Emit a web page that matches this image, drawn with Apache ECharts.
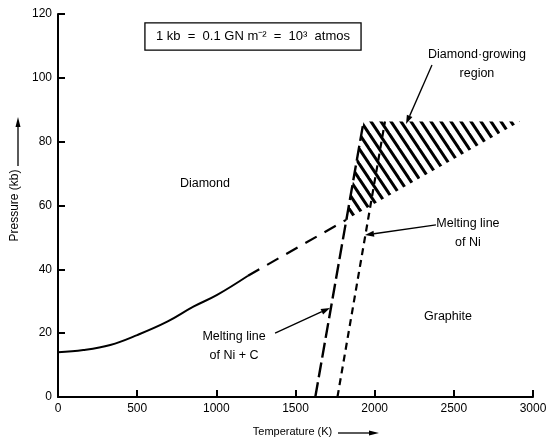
<!DOCTYPE html>
<html><head><meta charset="utf-8">
<script src="https://cdn.jsdelivr.net/npm/echarts@6/dist/echarts.min.js"></script>
<style>html,body{margin:0;padding:0;background:#fff}#c{width:552px;height:443px}</style>
</head><body><div id="c"></div>
<script>
// ---- data (temperature K, pressure kb) ----
const xMin = 0, xMax = 3000, xStep = 500;
const yMin = 0, yMax = 120, yStep = 20;
const phaseLineT = [0, 160, 330, 500, 690, 855, 1005, 1200];
const phaseLineP = [14, 14.7, 16.3, 19.4, 23.6, 28.3, 32, 38];
const phaseExtT = [1200, 1820];
const phaseExtP = [38, 55.5];
const meltNiCT = [1625, 1930];
const meltNiCP = [0, 86.3];
const meltNiT = [1765, 2065];
const meltNiP = [0, 86.3];
const growT = [1820, 1930, 2920];
const growP = [55.5, 86.3, 86.3];
const labelTexts = ['Diamond', 'Diamond·growing\nregion', 'Melting line\nof Ni', 'Graphite', 'Melting line\nof Ni + C'];
const labelT = [928, 2646, 2589, 2463, 1112];
const labelP = [67, 104.2, 51.5, 25.1, 16];
const arrowFromT = [2362, 2387, 1371];
const arrowFromP = [104, 53.9, 20.0];
const arrowToT = [2198, 1939, 1718];
const arrowToP = [85.5, 50.75, 27.9];
const unitText = '1 kb  =  0.1 GN m⁻²  =  10³  atmos';
const unitBoxT = [549, 1914];
const unitBoxP = [108.7, 117.2];

const FONT = '"Liberation Sans", Arial, Helvetica, sans-serif';
const zip = (a, b) => a.map((v, i) => [v, b[i]]);

// hatch pattern
const pc = document.createElement('canvas'); pc.width = 10; pc.height = 15;
const g = pc.getContext('2d'); g.strokeStyle = '#000'; g.lineWidth = 3;
for (const ox of [-20, -10, 0, 10, 20]) { g.beginPath(); g.moveTo(ox - 10, -15); g.lineTo(ox + 20, 30); g.stroke(); }

const chart = echarts.init(document.getElementById('c'), null, {renderer: 'canvas'});
const axisCommon = {
  axisLine: {lineStyle: {color: '#000', width: 2}},
  axisTick: {inside: true, length: 7, lineStyle: {color: '#000', width: 2}},
  splitLine: {show: false},
  axisLabel: {color: '#000', fontSize: 12, fontFamily: FONT, margin: 6, formatter: v => String(v)},
  nameTextStyle: {color: '#000', fontSize: 12, fontFamily: FONT}
};
chart.setOption({
  animation: false,
  backgroundColor: '#fff',
  grid: {left: 58, right: 19, top: 14, bottom: 46},
  xAxis: Object.assign({type: 'value', min: xMin, max: xMax, interval: xStep,
    name: 'Temperature (K)', nameLocation: 'middle', nameGap: 29}, axisCommon,
    {nameTextStyle: {color: '#000', fontSize: 11, fontFamily: FONT, padding: [0, 6, 0, 0]}}),
  yAxis: Object.assign({type: 'value', min: yMin, max: yMax, interval: yStep,
    name: 'Pressure (kb)', nameLocation: 'middle', nameRotate: 90, nameGap: 34}, axisCommon),
  series: [
    {type: 'custom', z: 1, data: [[growT[0], growP[0]]], encode: {x: 0, y: 1},
      renderItem: function (params, api) {
        const pts = growT.map((t, i) => api.coord([t, growP[i]]));
        return {type: 'polygon', shape: {points: pts}, style: {fill: {image: pc, repeat: 'repeat'}, stroke: null}};
      }},
    {type: 'line', z: 3, data: zip(phaseLineT, phaseLineP), smooth: 0.4, symbol: 'none',
      lineStyle: {color: '#000', width: 2}},
    {type: 'line', z: 3, data: zip(phaseExtT, phaseExtP), symbol: 'none',
      lineStyle: {color: '#000', width: 2.2, type: [13, 9]}},
    {type: 'line', z: 3, data: zip(meltNiCT, meltNiCP), symbol: 'none',
      lineStyle: {color: '#000', width: 2.4, type: [15, 5]}},
    {type: 'line', z: 3, data: zip(meltNiT, meltNiP), symbol: 'none',
      lineStyle: {color: '#000', width: 2.2, type: [7, 5]}},
    {type: 'custom', z: 4, data: arrowFromT.map((t, i) => [t, arrowFromP[i], arrowToT[i], arrowToP[i]]),
      encode: {x: [0, 2], y: [1, 3]},
      renderItem: function (params, api) {
        const a = api.coord([api.value(0), api.value(1)]);
        const b = api.coord([api.value(2), api.value(3)]);
        const ang = Math.atan2(b[1] - a[1], b[0] - a[0]);
        const L = 9, W = 3;
        const bx = b[0] - L * Math.cos(ang), by = b[1] - L * Math.sin(ang);
        return {type: 'group', children: [
          {type: 'line', shape: {x1: a[0], y1: a[1], x2: bx, y2: by}, style: {stroke: '#000', lineWidth: 1.3}},
          {type: 'polygon', shape: {points: [b, [bx - W * Math.sin(ang), by + W * Math.cos(ang)], [bx + W * Math.sin(ang), by - W * Math.cos(ang)]]},
            style: {fill: '#000'}}
        ]};
      }}
  ]
});

const els = [];
labelTexts.forEach((txt, i) => {
  const p = chart.convertToPixel({gridIndex: 0}, [labelT[i], labelP[i]]);
  els.push({type: 'text', x: p[0], y: p[1], z: 10,
    style: {text: txt, font: '12.5px ' + FONT, fill: '#000', align: 'center', verticalAlign: 'middle',
      textAlign: 'center', textVerticalAlign: 'middle', lineHeight: 19}});
});
const b1 = chart.convertToPixel({gridIndex: 0}, [unitBoxT[0], unitBoxP[1]]);
const b2 = chart.convertToPixel({gridIndex: 0}, [unitBoxT[1], unitBoxP[0]]);
els.push({type: 'rect', z: 10, shape: {x: b1[0], y: b1[1], width: b2[0] - b1[0], height: b2[1] - b1[1]},
  style: {fill: '#fff', stroke: '#000', lineWidth: 1.3}});
els.push({type: 'text', z: 11, x: (b1[0] + b2[0]) / 2, y: (b1[1] + b2[1]) / 2,
  style: {text: unitText, font: '13px ' + FONT, fill: '#000', align: 'center', verticalAlign: 'middle',
    textAlign: 'center', textVerticalAlign: 'middle'}});
// axis-name arrows
els.push({type: 'line', z: 10, shape: {x1: 18, y1: 166, x2: 18, y2: 126}, style: {stroke: '#000', lineWidth: 1.3}});
els.push({type: 'polygon', z: 10, shape: {points: [[18, 117], [15.5, 127], [20.5, 127]]}, style: {fill: '#000'}});
els.push({type: 'line', z: 10, shape: {x1: 338, y1: 433, x2: 370, y2: 433}, style: {stroke: '#000', lineWidth: 1.3}});
els.push({type: 'polygon', z: 10, shape: {points: [[379, 433], [369, 430.5], [369, 435.5]]}, style: {fill: '#000'}});
chart.setOption({graphic: {elements: els}});
</script>
</body></html>
